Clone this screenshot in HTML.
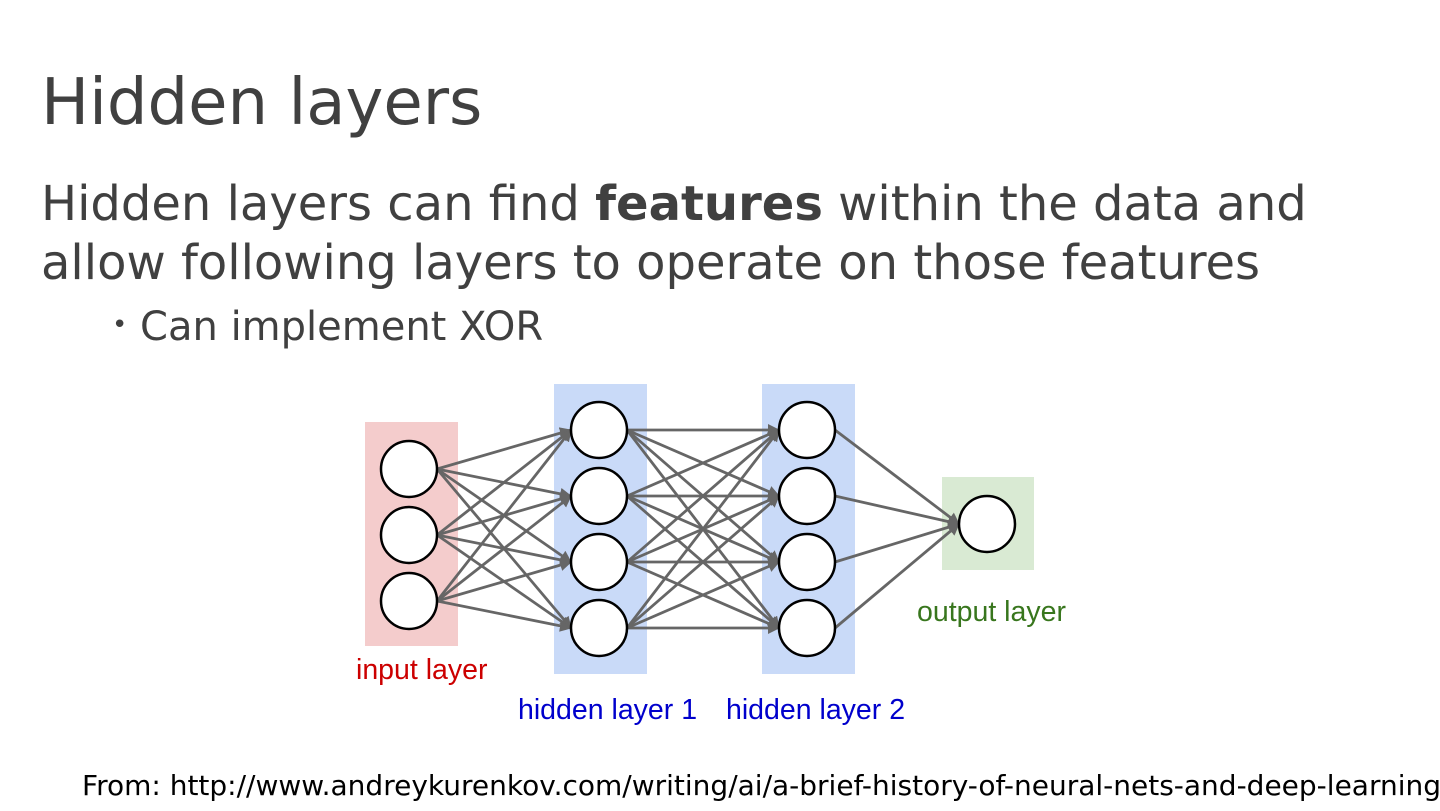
<!DOCTYPE html>
<html><head><style>
body{margin:0;width:1440px;height:811px;background:#fff;overflow:hidden;position:relative;font-family:"DejaVu Sans","Liberation Sans",sans-serif;color:#404040}
.t{position:absolute;white-space:nowrap}
</style></head><body>
<div class="t" style="left:41px;top:66px;font-size:64px;line-height:74px">Hidden layers</div>
<div class="t" style="left:41px;top:175px;font-size:48px;line-height:59px">Hidden layers can find <b>features</b> within the data and<br>allow following layers to operate on those features</div>
<div class="t" style="left:112px;top:301px;font-size:40px;line-height:48px"><span style="font-size:26px;vertical-align:7px">•</span> Can implement XOR</div>
<svg style="position:absolute;left:0;top:0" width="1440" height="811">
<defs><marker id="a" markerWidth="12" markerHeight="12" refX="11" refY="6" orient="auto" markerUnits="userSpaceOnUse" viewBox="0 0 12 12"><path d="M0,0L12,6L0,12z" fill="#666"/></marker></defs>
<rect x="365" y="422" width="93" height="224" fill="#f4cccc"/>
<rect x="554" y="384" width="93" height="290" fill="#c9daf8"/>
<rect x="762" y="384" width="93" height="290" fill="#c9daf8"/>
<rect x="942" y="477" width="92" height="93" fill="#d9ead3"/>
<g stroke="#666" stroke-width="2.8" marker-end="url(#a)">
<line x1="437" y1="469" x2="571" y2="430"/><line x1="437" y1="469" x2="571" y2="496"/><line x1="437" y1="469" x2="571" y2="562"/><line x1="437" y1="469" x2="571" y2="628"/>
<line x1="437" y1="535" x2="571" y2="430"/><line x1="437" y1="535" x2="571" y2="496"/><line x1="437" y1="535" x2="571" y2="562"/><line x1="437" y1="535" x2="571" y2="628"/>
<line x1="437" y1="601" x2="571" y2="430"/><line x1="437" y1="601" x2="571" y2="496"/><line x1="437" y1="601" x2="571" y2="562"/><line x1="437" y1="601" x2="571" y2="628"/>
<line x1="627" y1="430" x2="779" y2="430"/><line x1="627" y1="430" x2="779" y2="496"/><line x1="627" y1="430" x2="779" y2="562"/><line x1="627" y1="430" x2="779" y2="628"/>
<line x1="627" y1="496" x2="779" y2="430"/><line x1="627" y1="496" x2="779" y2="496"/><line x1="627" y1="496" x2="779" y2="562"/><line x1="627" y1="496" x2="779" y2="628"/>
<line x1="627" y1="562" x2="779" y2="430"/><line x1="627" y1="562" x2="779" y2="496"/><line x1="627" y1="562" x2="779" y2="562"/><line x1="627" y1="562" x2="779" y2="628"/>
<line x1="627" y1="628" x2="779" y2="430"/><line x1="627" y1="628" x2="779" y2="496"/><line x1="627" y1="628" x2="779" y2="562"/><line x1="627" y1="628" x2="779" y2="628"/>
<line x1="835" y1="430" x2="959" y2="524"/><line x1="835" y1="496" x2="959" y2="524"/><line x1="835" y1="562" x2="959" y2="524"/><line x1="835" y1="628" x2="959" y2="524"/>
</g>
<g fill="#fff" stroke="#000" stroke-width="2.5">
<circle cx="409" cy="469" r="28"/><circle cx="409" cy="535" r="28"/><circle cx="409" cy="601" r="28"/>
<circle cx="599" cy="430" r="28"/><circle cx="599" cy="496" r="28"/><circle cx="599" cy="562" r="28"/><circle cx="599" cy="628" r="28"/>
<circle cx="807" cy="430" r="28"/><circle cx="807" cy="496" r="28"/><circle cx="807" cy="562" r="28"/><circle cx="807" cy="628" r="28"/>
<circle cx="987" cy="524" r="28"/>
</g>
<g font-family="Liberation Sans,sans-serif" font-size="28.5">
<text x="356" y="679" fill="#cc0000">input layer</text>
<text x="518" y="719" fill="#0000cc">hidden layer 1</text>
<text x="726" y="719" fill="#0000cc">hidden layer 2</text>
<text x="917" y="621" fill="#38761d">output layer</text>
</g>
</svg>
<div class="t" style="left:82px;top:768px;font-size:28px;line-height:36px;color:#000">From: http://www.andreykurenkov.com/writing/ai/a-brief-history-of-neural-nets-and-deep-learning</div>
</body></html>
